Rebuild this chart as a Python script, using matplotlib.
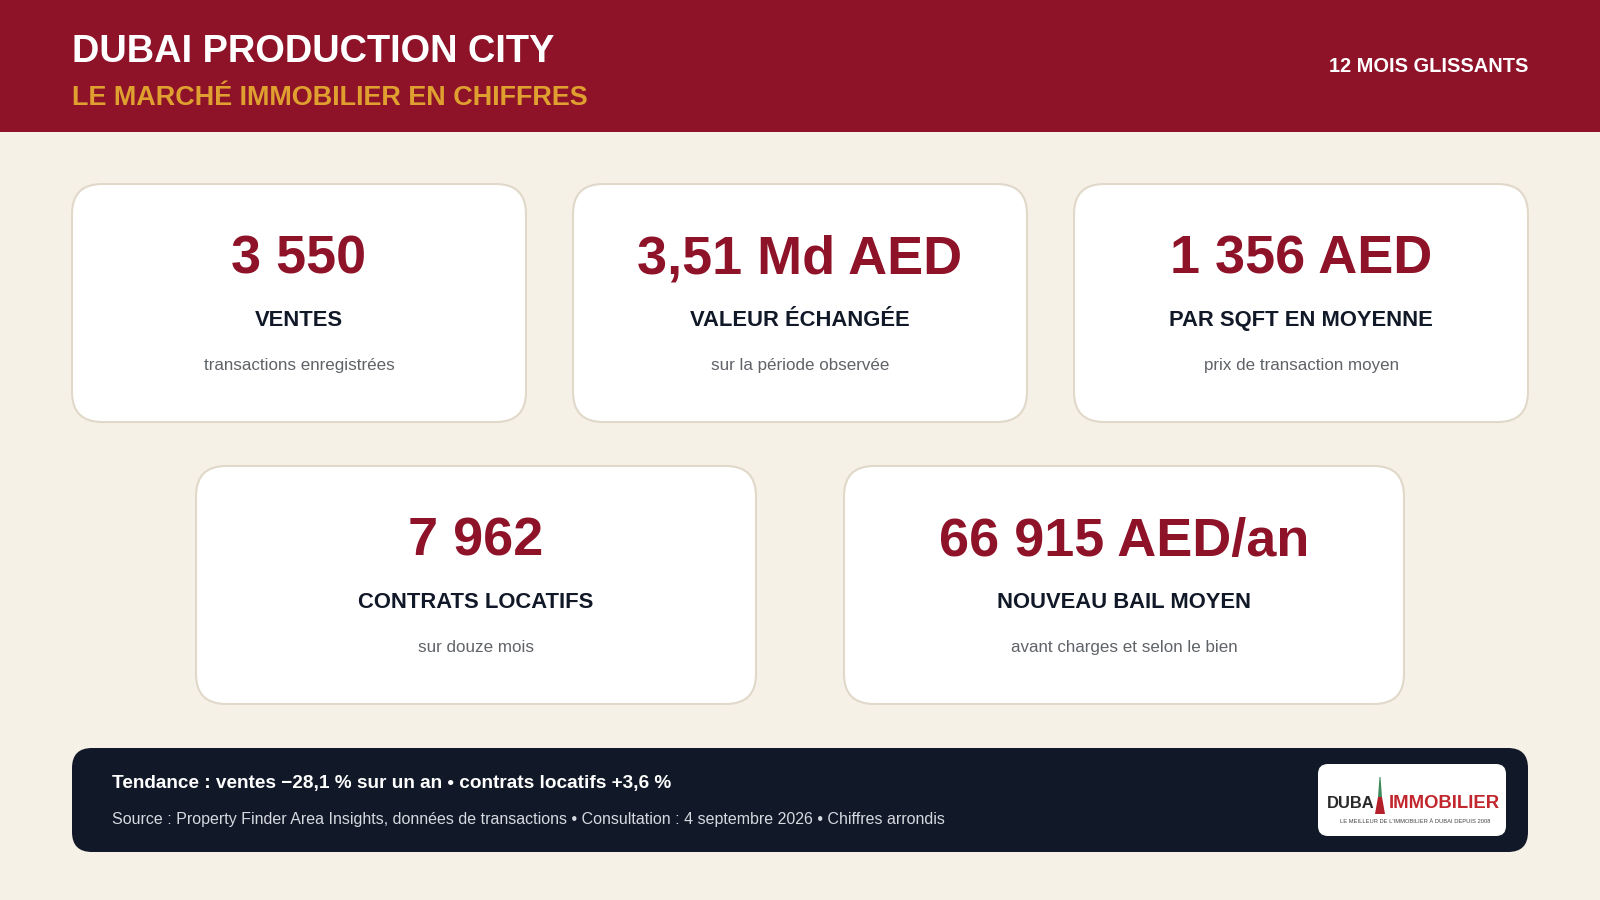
import matplotlib
matplotlib.use('Agg')
import matplotlib.pyplot as plt
from matplotlib.patches import FancyBboxPatch, Rectangle, Polygon

plt.rcParams['font.family'] = ['Liberation Sans', 'DejaVu Sans']

title = 'DUBAI PRODUCTION CITY'
subtitle = 'LE MARCHÉ IMMOBILIER EN CHIFFRES'
period = '12 MOIS GLISSANTS'

values = ['3 550', '3,51 Md AED', '1 356 AED', '7 962', '66 915 AED/an']
labels = ['VENTES', 'VALEUR ÉCHANGÉE', 'PAR SQFT EN MOYENNE', 'CONTRATS LOCATIFS', 'NOUVEAU BAIL MOYEN']
notes = ['transactions enregistrées', 'sur la période observée', 'prix de transaction moyen',
         'sur douze mois', 'avant charges et selon le bien']

trend = 'Tendance : ventes −28,1 % sur un an • contrats locatifs +3,6 %'
source = 'Source : Property Finder Area Insights, données de transactions • Consultation : 4 septembre 2026 • Chiffres arrondis'

RED = '#8e1329'
GOLD = '#e0a030'
CREAM = '#f6f1e7'
NAVY = '#111827'
BORDER = '#e0d8c8'

# card boxes: left, right, top, bottom in pixels
card_x = [(72, 526), (573, 1027), (1074, 1528), (196, 756), (844, 1404)]
card_y = [(184, 422), (184, 422), (184, 422), (466, 704), (466, 704)]


def px(size):
    return size * 0.72


def rounded(ax, x0, y0, x1, y1, r, **kw):
    box = FancyBboxPatch((x0 + r, y0 + r), x1 - x0 - 2 * r, y1 - y0 - 2 * r,
                         boxstyle='round,pad=%d,rounding_size=%d' % (r, r), **kw)
    ax.add_patch(box)


fig = plt.figure(figsize=(16, 9), dpi=100, facecolor=CREAM)
ax = fig.add_axes([0, 0, 1, 1])
ax.set_xlim(0, 1600)
ax.set_ylim(900, 0)
ax.axis('off')

# header
ax.add_patch(Rectangle((0, 0), 1600, 132, color=RED, lw=0))
ax.text(72, 62, title, color='white', fontsize=px(38), fontweight='bold', va='baseline', ha='left')
ax.text(72, 105, subtitle, color=GOLD, fontsize=px(27), fontweight='bold', va='baseline', ha='left')
ax.text(1528, 72.5, period, color='white', fontsize=px(20), fontweight='bold', va='baseline', ha='right')

# cards
for i in range(len(values)):
    x0, x1 = card_x[i]
    y0, y1 = card_y[i]
    cx = (x0 + x1) / 2
    rounded(ax, x0, y0, x1, y1, 30, fc='white', ec=BORDER, lw=1.5)
    ax.text(cx, y0 + 90, values[i], color=RED, fontsize=px(54), fontweight='bold', va='baseline', ha='center')
    ax.text(cx, y0 + 142, labels[i], color=NAVY, fontsize=px(22), fontweight='bold', va='baseline', ha='center')
    ax.text(cx, y0 + 186, notes[i], color='#5f6368', fontsize=px(17), va='baseline', ha='center')

# footer
rounded(ax, 72, 748, 1528, 852, 20, fc=NAVY, ec='none')
ax.text(112, 788, trend, color='white', fontsize=px(19), fontweight='bold', va='baseline', ha='left')
ax.text(112, 824, source, color='#d5d9e0', fontsize=px(16), va='baseline', ha='left')

# logo
rounded(ax, 1318, 764, 1506, 836, 10, fc='white', ec='none')
ax.text(1327, 808, 'DUBA', color='#2a2a2a', fontsize=px(16.5), fontweight='bold', va='baseline', ha='left')
ax.add_patch(Polygon([(1378, 797), (1382, 797), (1385, 814), (1375, 814)], color='#b3202c', lw=0))
ax.add_patch(Polygon([(1379.5, 777), (1380.5, 777), (1382, 797), (1378, 797)], color='#3d8b5a', lw=0))
ax.text(1389, 808, 'IMMOBILIER', color='#c1272d', fontsize=px(18.5), fontweight='bold', va='baseline', ha='left')
ax.text(1415, 823, "LE MEILLEUR DE L'IMMOBILIER À DUBAI DEPUIS 2008", color='#444444',
        fontsize=px(5.8), va='baseline', ha='center')

fig.savefig('out.png', dpi=100, facecolor=CREAM)
